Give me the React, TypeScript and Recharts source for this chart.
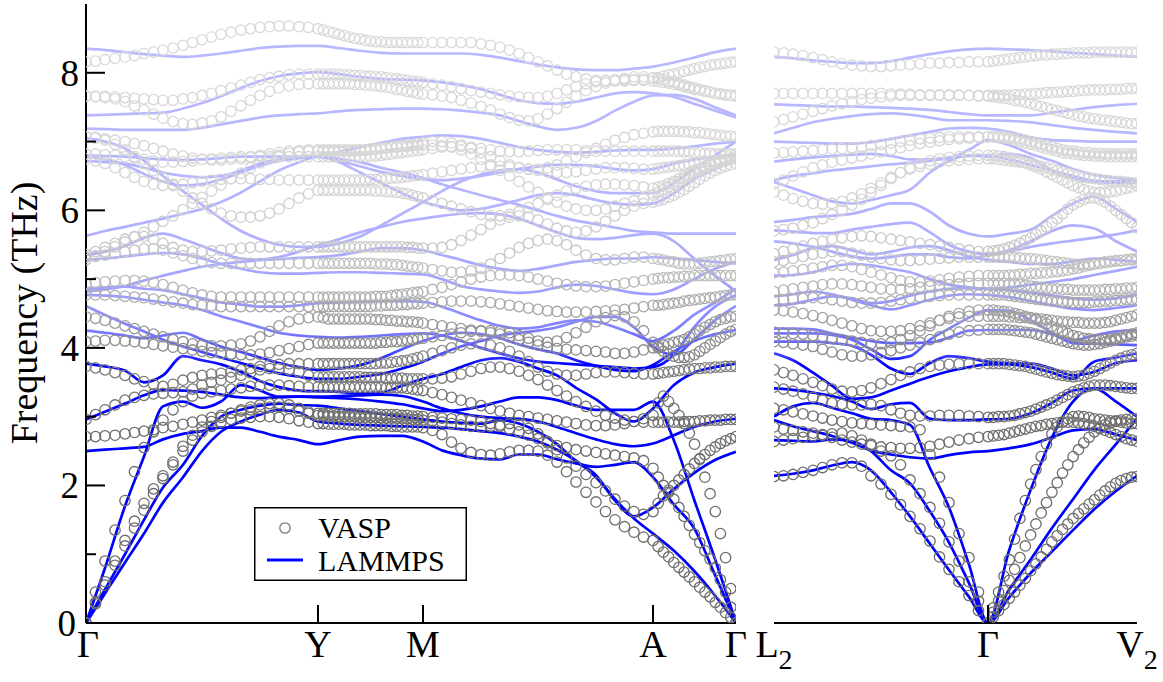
import React from 'react';
import { ComposedChart, Line, Scatter, XAxis, YAxis, Legend } from 'recharts';

const FONT = '"Liberation Serif", "Times New Roman", Times, serif';
const PLOT_TOP = 4;
const PLOT_BOTTOM = 623;

// ---------- k-path grids (path distance units) ----------
const kLmpLeft = [0,19,39,58,77,97,116,135,155,174,193,213,232,253,274,295,316,337,356,375,395,414,433,452,471,490,510,529,548,567,588,608,629,650];
const kVaspLeft = [
  0,9.5,19,29,39,48.5,58,67.5,77,87,97,106.5,116,125.5,135,145,155,164.5,174,183.5,193,203,213,222.5,232,
  237.25,242.5,247.75,253,258.25,263.5,268.75,274,279.25,284.5,289.75,295,300.25,305.5,310.75,316,321.25,326.5,331.75,337,
  346.5,356,365.5,375,385,395,404.5,414,423.5,433,442.5,452,461.5,471,480.5,490,500,510,519.5,529,538.5,548,557.5,567,
  572.2,577.4,582.6,587.8,592.9,598.1,603.3,608.5,613.7,618.9,624.1,629.3,634.4,639.6,644.8,650,
];
const kLmpRight = [0,19,39,58,78,97,117,136,156,175,195,214,235,257,278,299,320,342,363];
const kVaspRight = [
  0,9.5,19,29,39,48.5,58,68,78,87.5,97,107,117,126.5,136,146,156,165.5,175,185,195,204.5,214,
  219.3,224.6,230,235.3,240.6,245.9,251.3,256.6,261.9,267.2,272.5,277.9,283.2,288.5,293.8,299.1,304.5,309.8,315.1,320.4,325.8,331.1,336.4,341.7,347,352.4,357.7,363,
];

// ---------- tick labels ----------
const leftTickPos = [0, 232, 337, 567, 650];
const leftTickLabels = ['Γ', 'Y', 'M', 'A', 'Γ'];
const leftTickSub = ['', '', '', '', ''];
const rightTickPos = [0, 214, 363];
const rightTickMain = ['L', 'Γ', 'V'];
const rightTickSub = ['2', '', '2'];
const freqTicks = [0, 1, 2, 3, 4, 5, 6, 7, 8];
const freqTickLabels = ['0', '', '2', '', '4', '', '6', '', '8'];

// ---------- LAMMPS, left panel (Γ-Y-M-A-Γ) ----------
const lmpL01 = [0,0.43,0.88,1.30,1.75,2.12,2.50,2.78,2.93,3.03,3.10,3.06,2.93, 2.90,2.88,2.87,2.86,2.85, 2.84,2.82,2.79,2.76,2.71,2.64,2.52,2.36,2.12,1.80,1.52,1.30, 1.05,0.76,0.40,0];
const lmpL02 = [0,0.49,1.00,1.50,1.97,2.30,2.72,3.00,3.10,3.16,3.19,3.17,3.16, 3.12,3.08,3.04,3.00,2.96, 2.93,2.91,2.90,2.95,2.90,2.78,2.60,2.35,2.15,1.78,1.55,1.68, 1.95,2.18,2.37,2.49];
const lmpL03 = [2.50,2.52,2.54,2.56,2.67,2.75,2.79,2.84,2.84,2.78,2.71,2.66,2.60, 2.66,2.71,2.72,2.72,2.64, 2.51,2.44,2.39,2.38,2.45,2.45,2.38,2.32,2.27,2.30,2.34,2.12, 1.72,1.38,0.70,0];
const lmpL04 = [0,0.80,1.70,2.42,3.15,3.22,3.13,3.22,3.46,3.38,3.29,3.29,3.28, 3.27,3.25,3.22,3.18,3.12, 3.08,3.10,3.15,3.22,3.28,3.28,3.24,3.16,3.10,3.10,3.10,3.22, 2.65,1.80,0.93,0];
const lmpL05 = [2.96,3.07,3.19,3.31,3.39,3.38,3.36,3.32,3.28,3.27,3.28,3.29,3.29, 3.30,3.31,3.32,3.30,3.22, 3.12,3.05,3.00,2.98,2.97,2.93,2.85,2.76,2.67,2.60,2.57,2.61, 2.73,2.85,2.93,2.97];
const lmpL06 = [3.77,3.73,3.67,3.50,3.60,3.88,3.82,3.76,3.65,3.52,3.43,3.38,3.37, 3.36,3.34,3.35,3.45,3.55, 3.62,3.72,3.82,3.85,3.80,3.70,3.60,3.42,3.25,3.05,2.93,3.12, 3.46,3.64,3.72,3.77];
const lmpL07 = [4.25,4.22,4.18,4.14,4.18,4.22,4.12,4.02,3.94,3.86,3.78,3.72,3.68, 3.70,3.75,3.85,3.98,4.10, 4.18,4.22,4.20,4.14,4.05,3.98,3.92,3.82,3.74,3.68,3.66,3.75, 3.95,4.10,4.20,4.26];
const lmpL08 = [4.61,4.48,4.35,4.24,4.12,4.02,3.94,3.86,3.78,3.70,3.63,3.58,3.55, 3.55,3.58,3.62,3.70,3.80, 3.92,4.02,4.10,4.18,4.22,4.25,4.30,4.38,4.45,4.45,4.30,4.02, 3.90,4.12,4.40,4.61];
const lmpL09 = [4.77,4.76,4.74,4.70,4.66,4.62,4.55,4.46,4.38,4.30,4.22,4.18,4.16, 4.15,4.16,4.18,4.20,4.21, 4.18,4.10,4.00,3.92,3.85,3.80,3.78,3.76,3.74,3.72,3.70,3.72, 3.90,4.30,4.60,4.77];
const lmpL10 = [4.86,4.88,4.89,4.86,4.84,4.78,4.72,4.66,4.63,4.60,4.60,4.62,4.65, 4.66,4.67,4.68,4.68,4.67, 4.60,4.50,4.40,4.32,4.28,4.30,4.36,4.40,4.38,4.30,4.20,4.10, 4.25,4.48,4.66,4.86];
const lmpL11 = [4.82,4.85,4.90,4.98,5.05,5.12,5.18,5.22,5.25,5.28,5.32,5.40,5.49, 5.58,5.68,5.76,5.83,5.88, 5.92,5.95,5.96,5.94,5.88,5.78,5.68,5.60,5.58,5.60,5.64,5.66, 5.55,5.30,5.05,4.82];
const lmpL12 = [5.28,5.30,5.33,5.36,5.38,5.36,5.30,5.22,5.15,5.10,5.08,5.08,5.09, 5.10,5.10,5.09,5.08,5.07, 5.00,4.90,4.85,4.82,4.80,4.82,4.88,4.92,4.90,4.85,4.80,4.78, 4.85,5.00,5.15,5.25];
const lmpL13 = [5.35,5.40,5.48,5.60,5.66,5.58,5.48,5.38,5.30,5.28,5.29,5.31,5.32, 5.35,5.40,5.45,5.45,5.42, 5.35,5.28,5.20,5.15,5.12,5.15,5.20,5.25,5.28,5.30,5.30,5.32, 5.30,5.28,5.25,5.23];
const lmpL14 = [5.63,5.70,5.76,5.82,5.88,5.95,6.02,6.12,6.26,6.42,6.58,6.70,6.78, 6.75,6.70,6.62,6.55,6.47, 6.38,6.30,6.22,6.15,6.08,6.00,5.92,5.85,5.80,5.75,5.70,5.68, 5.66,5.66,5.66,5.66];
const lmpL15 = [7.05,7.00,6.90,6.72,6.50,6.28,6.08,5.88,5.70,5.58,5.50,5.47,5.47, 5.52,5.62,5.78,5.95,6.12, 6.28,6.42,6.52,6.58,6.60,6.55,6.45,6.35,6.28,6.25,6.25,6.25, 6.40,6.60,6.80,7.00];
const lmpL16 = [6.80,6.79,6.78,6.76,6.74,6.73,6.74,6.76,6.78,6.78,6.78,6.78,6.78, 6.85,6.92,6.98,7.04,7.07, 7.09,7.08,7.04,6.98,6.92,6.88,6.85,6.84,6.85,6.87,6.88,6.88, 6.90,6.93,6.97,7.00];
const lmpL17 = [6.78,6.74,6.66,6.53,6.42,6.36,6.38,6.45,6.55,6.65,6.72,6.76,6.78, 6.72,6.64,6.56,6.50,6.45, 6.44,6.46,6.50,6.55,6.60,6.64,6.66,6.66,6.64,6.60,6.58,6.60, 6.68,6.74,6.78,6.80];
const lmpL18 = [6.72,6.70,6.68,6.62,6.55,6.50,6.48,6.50,6.58,6.68,6.74,6.77,6.78, 6.70,6.55,6.40,6.25,6.12, 6.05,6.00,6.02,6.08,6.15,6.22,6.25,6.22,6.15,6.10,6.08,6.10, 6.25,6.45,6.60,6.72];
const lmpL19 = [7.19,7.18,7.17,7.17,7.17,7.17,7.20,7.25,7.30,7.35,7.38,7.40,7.41, 7.44,7.46,7.47,7.48,7.48, 7.47,7.45,7.42,7.38,7.30,7.22,7.17,7.20,7.30,7.45,7.58,7.67, 7.68,7.62,7.50,7.38];
const lmpL20 = [7.38,7.39,7.40,7.41,7.42,7.48,7.56,7.66,7.78,7.88,7.95,7.99,8.01, 7.98,7.94,7.91,7.90,7.89, 7.86,7.82,7.76,7.68,7.60,7.56,7.55,7.58,7.64,7.70,7.72,7.70, 7.65,7.55,7.45,7.35];
const lmpL21 = [8.35,8.33,8.30,8.27,8.25,8.23,8.25,8.28,8.32,8.36,8.38,8.39,8.39, 8.36,8.32,8.29,8.28,8.28, 8.28,8.28,8.26,8.22,8.17,8.12,8.08,8.05,8.04,8.04,8.06,8.09, 8.15,8.22,8.30,8.35];

// ---------- LAMMPS, right panel (L2-Γ-V2) ----------
const lmpR01 = [2.14,2.17,2.22,2.29,2.34,2.22,1.90,1.55,1.15,0.77,0.38,0, 0.37,0.73,1.04,1.35,1.65,1.92,2.14];
const lmpR02 = [2.66,2.65,2.64,2.67,2.64,2.50,2.22,2.03,1.62,1.17,0.58,0, 0.48,0.93,1.38,1.80,2.22,2.60,2.97];
const lmpR03 = [2.95,2.86,2.79,2.72,2.62,2.51,2.45,2.41,2.39,2.44,2.48,2.50, 2.54,2.60,2.70,2.80,2.82,2.74,2.66];
const lmpR04 = [3.00,3.15,3.20,3.13,3.05,2.97,2.95,2.88,2.25,1.68,0.85,0, 1.05,1.95,2.70,3.22,3.41,3.22,3.00];
const lmpR05 = [3.41,3.39,3.35,3.30,3.22,3.11,3.18,3.20,2.97,2.95,2.95,2.96, 2.97,3.05,3.20,3.38,3.41,3.41,3.41];
const lmpR06 = [3.92,3.82,3.64,3.45,3.26,3.28,3.38,3.48,3.58,3.66,3.72,3.76, 3.76,3.72,3.64,3.55,3.80,3.86,3.92];
const lmpR07 = [4.28,4.28,4.27,4.21,4.15,4.10,4.07,4.07,4.08,4.15,4.25,4.26, 4.26,4.26,4.20,4.11,4.18,4.24,4.26];
const lmpR08 = [4.21,4.21,4.21,4.19,4.12,3.98,3.84,3.88,4.12,4.28,4.44,4.55, 4.54,4.40,4.22,4.07,4.06,4.05,4.04];
const lmpR09 = [4.09,4.09,4.09,4.07,4.03,3.90,3.70,3.62,3.78,3.88,3.85,3.80, 3.78,3.77,3.70,3.60,3.65,3.78,3.82];
const lmpR10 = [4.75,4.78,4.82,4.78,4.70,4.62,4.56,4.62,4.70,4.76,4.78,4.77, 4.74,4.68,4.62,4.57,4.55,4.58,4.62];
const lmpR11 = [4.62,4.64,4.70,4.75,4.72,4.65,4.68,4.76,4.82,4.86,4.87,4.86, 4.84,4.80,4.76,4.72,4.70,4.72,4.78];
const lmpR12 = [5.05,5.06,5.10,5.18,5.22,5.20,5.15,5.10,5.00,4.92,4.88,4.86, 4.88,4.92,4.96,5.00,5.06,5.12,5.18];
const lmpR13 = [5.28,5.35,5.45,5.48,5.42,5.36,5.40,5.46,5.48,5.42,5.33,5.28, 5.25,5.22,5.22,5.26,5.30,5.28,5.25];
const lmpR14 = [5.55,5.52,5.47,5.40,5.33,5.30,5.32,5.36,5.36,5.32,5.30,5.35, 5.42,5.55,5.70,5.78,5.74,5.55,5.40];
const lmpR15 = [5.71,5.69,5.67,5.67,5.72,5.76,5.80,5.82,5.68,5.50,5.40,5.36, 5.40,5.47,5.52,5.56,5.60,5.65,5.71];
const lmpR16 = [5.83,5.86,5.90,5.92,5.95,6.02,6.10,6.10,5.98,5.78,5.66,5.62, 5.66,5.72,5.92,6.10,6.20,6.02,5.83];
const lmpR17 = [6.41,6.32,6.22,6.13,6.10,6.15,6.22,6.30,6.55,6.72,6.80,6.78, 6.82,6.76,6.58,6.47,6.41,6.40,6.40];
const lmpR18 = [6.44,6.50,6.54,6.58,6.61,6.64,6.67,6.69,6.72,6.76,6.79,6.80, 6.74,6.66,6.58,6.50,6.43,6.42,6.44];
const lmpR19 = [6.71,6.74,6.77,6.79,6.81,6.82,6.79,6.74,6.74,6.76,6.88,7.02, 6.95,6.82,6.72,6.60,6.52,6.47,6.44];
const lmpR20 = [7.00,6.99,6.98,6.97,6.97,6.99,7.04,7.09,7.14,7.19,7.20,7.19, 7.14,7.06,7.02,7.01,7.00,7.00,7.00];
const lmpR21 = [7.12,7.20,7.28,7.33,7.37,7.40,7.41,7.39,7.35,7.31,7.31,7.31, 7.30,7.28,7.24,7.20,7.17,7.14,7.12];
const lmpR22 = [7.54,7.53,7.52,7.51,7.51,7.50,7.49,7.48,7.46,7.43,7.40,7.38, 7.38,7.38,7.42,7.46,7.50,7.53,7.55];
const lmpR23 = [8.23,8.21,8.18,8.16,8.14,8.14,8.17,8.22,8.27,8.31,8.34,8.35, 8.34,8.33,8.31,8.29,8.27,8.25,8.23];

// ---------- VASP, left panel (Γ-Y 25 | Y-M 20 | M-A 24 | A-Γ 16) ----------
const vspL01 = [0,0.28,0.55,0.84,1.12,1.38,1.64,1.88,2.10,2.30,2.50,2.66,2.78,2.86,2.92,2.96,2.98,2.99,3.00,3.00,2.99,2.97,2.94,2.92,2.90,
  2.90,2.89,2.89,2.89,2.89,2.88,2.88,2.88,2.88,2.87,2.87,2.87,2.87,2.86,2.86,2.85,2.85,2.85,2.85,2.84,
  2.80,2.74,2.63,2.54,2.48,2.45,2.44,2.46,2.49,2.51,2.51,2.50,2.44,2.34,2.20,2.05,1.90,1.76,1.62,1.50,1.40,1.32,1.25,1.20,
  1.11,1.03,0.96,0.88,0.81,0.74,0.67,0.60,0.52,0.45,0.38,0.30,0.23,0.15,0.08,0];
const vspL02 = [0,0.30,0.60,0.90,1.20,1.48,1.74,1.95,2.14,2.34,2.57,2.73,2.85,2.93,2.99,3.05,3.10,3.14,3.17,3.19,3.19,3.17,3.12,3.07,3.02,
  3.02,3.01,3.01,3.00,3.00,3.00,3.00,2.99,2.99,2.99,2.99,2.98,2.98,2.98,2.98,2.97,2.97,2.96,2.96,2.95,
  2.94,2.92,2.90,2.88,2.86,2.85,2.86,2.88,2.90,2.88,2.83,2.75,2.64,2.52,2.40,2.28,2.16,2.04,1.92,1.80,1.70,1.62,1.58,1.62,
  1.74,1.85,1.93,2.00,2.08,2.16,2.24,2.32,2.39,2.45,2.51,2.56,2.61,2.65,2.68,2.71];
const vspL03 = [2.71,2.71,2.72,2.73,2.75,2.77,2.79,2.81,2.84,2.86,2.89,2.92,2.95,2.99,3.02,3.05,3.08,3.10,3.12,3.14,3.14,3.12,3.08,3.05,3.05,
  3.05,3.05,3.05,3.05,3.05,3.05,3.04,3.04,3.04,3.04,3.04,3.03,3.03,3.03,3.03,3.02,3.02,3.01,3.01,3.00,
  2.99,2.98,2.97,2.96,2.95,2.93,2.90,2.86,2.82,2.78,2.73,2.68,2.62,2.58,2.55,2.52,2.50,2.48,2.46,2.44,2.42,2.40,2.36,2.25,
  2.12,2.00,1.90,1.80,1.68,1.55,1.42,1.29,1.17,1.05,0.93,0.80,0.63,0.45,0.23,0];
const vspL04 = [0,0.45,0.90,1.35,1.78,2.20,2.55,2.78,2.95,3.10,3.22,3.30,3.34,3.36,3.38,3.40,3.42,3.44,3.45,3.46,3.46,3.45,3.44,3.43,3.43,
  3.43,3.43,3.43,3.43,3.43,3.43,3.43,3.43,3.43,3.43,3.43,3.43,3.42,3.42,3.42,3.42,3.41,3.40,3.39,3.38,
  3.35,3.32,3.28,3.24,3.20,3.16,3.12,3.08,3.05,3.02,3.00,2.98,2.96,2.94,2.92,2.90,2.88,2.87,2.87,2.88,2.90,2.93,2.97,3.02,
  3.20,3.30,3.22,3.12,3.02,2.90,2.76,2.60,2.38,2.12,1.88,1.62,1.30,0.95,0.50,0];
const vspL05 = [2.96,3.03,3.10,3.17,3.24,3.28,3.31,3.33,3.34,3.35,3.36,3.40,3.46,3.50,3.53,3.57,3.60,3.64,3.68,3.70,3.70,3.68,3.65,3.60,3.58,
  3.58,3.58,3.58,3.58,3.58,3.58,3.58,3.58,3.57,3.57,3.57,3.57,3.56,3.56,3.56,3.56,3.55,3.55,3.55,3.55,
  3.55,3.56,3.58,3.62,3.66,3.70,3.72,3.72,3.70,3.66,3.60,3.54,3.46,3.38,3.30,3.22,3.15,3.08,3.02,2.98,2.95,2.93,2.92,2.92,
  2.92,2.92,2.92,2.92,2.92,2.93,2.93,2.93,2.94,2.94,2.95,2.95,2.95,2.96,2.96,2.96];
const vspL06 = [3.73,3.71,3.68,3.64,3.60,3.55,3.51,3.47,3.44,3.47,3.53,3.57,3.60,3.62,3.63,3.65,3.68,3.70,3.73,3.75,3.76,3.77,3.77,3.77,3.77,
  3.77,3.77,3.77,3.77,3.77,3.77,3.77,3.77,3.77,3.77,3.77,3.78,3.78,3.79,3.80,3.81,3.82,3.84,3.86,3.88,
  3.92,3.96,4.00,4.04,4.06,4.06,4.04,4.00,3.95,3.88,3.80,3.72,3.66,3.62,3.60,3.60,3.62,3.64,3.65,3.65,3.64,3.63,3.62,3.62,
  3.63,3.64,3.65,3.66,3.67,3.68,3.69,3.70,3.70,3.71,3.71,3.72,3.72,3.73,3.73,3.73];
const vspL07 = [4.09,4.10,4.11,4.11,4.10,4.09,4.07,4.05,4.03,4.01,3.99,3.97,3.95,3.93,3.92,3.91,3.90,3.90,3.91,3.93,3.96,3.99,4.02,4.05,4.07,
  4.07,4.07,4.07,4.07,4.07,4.07,4.07,4.07,4.07,4.07,4.07,4.08,4.08,4.09,4.09,4.10,4.11,4.12,4.13,4.14,
  4.16,4.18,4.20,4.22,4.24,4.25,4.25,4.24,4.22,4.18,4.14,4.10,4.08,4.10,4.15,4.22,4.30,4.38,4.44,4.47,4.45,4.38,4.25,4.08,
  4.00,3.95,3.91,3.88,3.86,3.86,3.87,3.90,3.95,4.00,4.05,4.10,4.15,4.20,4.24,4.27];
const vspL08 = [4.45,4.43,4.40,4.36,4.32,4.28,4.24,4.20,4.16,4.12,4.09,4.06,4.04,4.03,4.03,4.04,4.06,4.10,4.16,4.24,4.32,4.38,4.42,4.44,4.45,
  4.44,4.42,4.42,4.42,4.42,4.42,4.42,4.42,4.42,4.42,4.41,4.41,4.40,4.40,4.39,4.39,4.38,4.38,4.37,4.36,
  4.34,4.32,4.30,4.28,4.26,4.24,4.22,4.20,4.16,4.12,4.08,4.04,4.01,3.99,3.98,3.97,3.96,3.95,3.94,3.92,3.92,3.94,3.97,4.00,
  4.02,4.04,4.06,4.08,4.10,4.12,4.16,4.20,4.25,4.30,4.34,4.38,4.41,4.43,4.45,4.46];
const vspL09 = [4.77,4.77,4.77,4.76,4.75,4.74,4.73,4.71,4.69,4.67,4.65,4.63,4.62,4.61,4.60,4.60,4.60,4.60,4.60,4.60,4.60,4.60,4.60,4.60,4.60,
  4.60,4.60,4.60,4.60,4.60,4.60,4.60,4.60,4.60,4.60,4.61,4.61,4.62,4.62,4.62,4.63,4.63,4.64,4.64,4.65,
  4.66,4.67,4.68,4.68,4.68,4.67,4.66,4.64,4.62,4.60,4.58,4.56,4.54,4.53,4.52,4.52,4.52,4.53,4.54,4.55,4.56,4.58,4.60,4.62,
  4.62,4.63,4.64,4.65,4.66,4.68,4.69,4.70,4.71,4.72,4.73,4.74,4.75,4.76,4.77,4.77];
const vspL10 = [4.94,4.95,4.96,4.97,4.98,4.98,4.97,4.95,4.92,4.88,4.84,4.80,4.77,4.75,4.74,4.74,4.74,4.74,4.74,4.74,4.74,4.74,4.74,4.74,4.74,
  4.74,4.74,4.74,4.74,4.74,4.74,4.74,4.74,4.74,4.74,4.75,4.75,4.75,4.76,4.77,4.78,4.79,4.80,4.81,4.82,
  4.85,4.88,4.92,4.96,5.00,5.03,5.05,5.06,5.06,5.05,5.03,5.00,4.97,4.94,4.92,4.90,4.89,4.89,4.90,4.92,4.94,4.96,4.98,5.00,
  5.01,5.02,5.02,5.03,5.03,5.04,5.04,5.05,5.05,5.05,5.05,5.05,5.05,5.05,5.05,5.05];
const vspL11 = [5.32,5.33,5.35,5.37,5.40,5.42,5.44,5.44,5.42,5.38,5.34,5.30,5.26,5.24,5.23,5.23,5.23,5.23,5.23,5.23,5.23,5.23,5.23,5.23,5.23,
  5.23,5.23,5.23,5.23,5.23,5.23,5.23,5.23,5.23,5.23,5.22,5.22,5.22,5.21,5.21,5.20,5.19,5.18,5.17,5.16,
  5.14,5.12,5.10,5.10,5.12,5.16,5.22,5.30,5.38,5.46,5.52,5.56,5.58,5.56,5.50,5.42,5.35,5.30,5.28,5.28,5.30,5.32,5.32,5.30,
  5.29,5.28,5.26,5.25,5.23,5.22,5.22,5.22,5.23,5.24,5.25,5.26,5.27,5.28,5.29,5.30];
const vspL12 = [5.36,5.40,5.46,5.52,5.58,5.62,5.62,5.58,5.52,5.46,5.42,5.40,5.40,5.41,5.42,5.44,5.45,5.46,5.47,5.47,5.47,5.47,5.47,5.47,5.47,
  5.47,5.47,5.47,5.47,5.47,5.47,5.47,5.47,5.47,5.47,5.47,5.47,5.47,5.47,5.47,5.47,5.46,5.46,5.45,5.45,
  5.45,5.46,5.50,5.56,5.64,5.72,5.80,5.86,5.90,5.92,5.90,5.86,5.80,5.74,5.70,5.68,5.70,5.76,5.84,5.92,6.00,6.06,6.10,6.12,
  6.14,6.16,6.19,6.22,6.26,6.30,6.35,6.40,6.45,6.50,6.54,6.58,6.61,6.64,6.66,6.68];
const vspL13 = [5.28,5.34,5.40,5.47,5.54,5.61,5.68,5.76,5.84,5.92,6.01,6.10,6.19,6.28,6.37,6.46,6.54,6.62,6.69,6.75,6.80,6.83,6.85,6.86,6.86,
  6.86,6.86,6.86,6.86,6.86,6.86,6.86,6.87,6.87,6.88,6.89,6.90,6.91,6.92,6.92,6.93,6.93,6.94,6.94,6.95,
  6.95,6.94,6.92,6.88,6.82,6.74,6.66,6.58,6.50,6.42,6.34,6.26,6.18,6.12,6.06,6.02,6.00,6.00,6.02,6.06,6.10,6.14,6.18,6.22,
  6.26,6.30,6.34,6.38,6.42,6.46,6.50,6.54,6.58,6.62,6.65,6.68,6.70,6.72,6.74,6.75];
const vspL14 = [7.07,7.05,7.02,6.96,6.88,6.78,6.68,6.58,6.48,6.38,6.28,6.18,6.10,6.02,5.96,5.92,5.90,5.90,5.92,5.96,6.02,6.10,6.18,6.24,6.29,
  6.29,6.29,6.29,6.29,6.29,6.29,6.29,6.29,6.29,6.29,6.28,6.28,6.27,6.27,6.26,6.25,6.24,6.22,6.20,6.18,
  6.14,6.10,6.06,6.02,5.98,5.94,5.92,5.92,5.94,5.98,6.04,6.10,6.16,6.22,6.28,6.32,6.35,6.37,6.38,6.38,6.37,6.36,6.34,6.32,
  6.34,6.36,6.39,6.42,6.46,6.50,6.54,6.58,6.61,6.64,6.67,6.70,6.72,6.74,6.76,6.78];
const vspL15 = [6.75,6.72,6.68,6.62,6.55,6.48,6.42,6.38,6.36,6.36,6.38,6.40,6.42,6.44,6.45,6.46,6.46,6.46,6.45,6.45,6.44,6.44,6.44,6.44,6.44,
  6.44,6.44,6.44,6.44,6.44,6.44,6.44,6.44,6.44,6.45,6.45,6.46,6.46,6.47,6.47,6.48,6.49,6.50,6.51,6.52,
  6.54,6.56,6.58,6.60,6.62,6.63,6.64,6.64,6.63,6.62,6.60,6.58,6.56,6.55,6.55,6.56,6.58,6.60,6.62,6.62,6.62,6.61,6.60,6.60,
  6.61,6.62,6.63,6.64,6.65,6.66,6.67,6.68,6.69,6.70,6.71,6.72,6.73,6.74,6.75,6.76];
const vspL16 = [6.82,6.82,6.81,6.80,6.78,6.76,6.74,6.72,6.70,6.70,6.71,6.72,6.74,6.75,6.76,6.77,6.78,6.78,6.78,6.78,6.78,6.78,6.78,6.78,6.78,
  6.78,6.78,6.78,6.78,6.78,6.78,6.78,6.78,6.78,6.79,6.79,6.80,6.81,6.82,6.83,6.84,6.85,6.86,6.87,6.88,
  6.90,6.92,6.93,6.93,6.92,6.90,6.88,6.86,6.85,6.85,6.86,6.87,6.88,6.88,6.88,6.88,6.87,6.86,6.86,6.86,6.86,6.86,6.86,6.86,
  6.86,6.86,6.86,6.86,6.86,6.85,6.85,6.84,6.84,6.83,6.83,6.82,6.82,6.82,6.82,6.82];
const vspL17 = [7.66,7.65,7.64,7.62,7.58,7.52,7.46,7.40,7.34,7.29,7.26,7.25,7.27,7.30,7.36,7.44,7.52,7.60,7.67,7.73,7.78,7.81,7.83,7.84,7.84,
  7.84,7.84,7.84,7.84,7.84,7.84,7.83,7.83,7.82,7.82,7.81,7.80,7.79,7.78,7.76,7.75,7.73,7.72,7.70,7.69,
  7.68,7.66,7.64,7.60,7.56,7.51,7.46,7.40,7.35,7.31,7.30,7.33,7.40,7.48,7.57,7.66,7.74,7.80,7.85,7.89,7.92,7.94,7.94,7.93,
  7.92,7.90,7.88,7.86,7.84,7.82,7.80,7.78,7.76,7.74,7.72,7.70,7.69,7.68,7.67,7.67];
const vspL18 = [7.66,7.66,7.66,7.65,7.64,7.63,7.62,7.61,7.60,7.60,7.62,7.64,7.67,7.70,7.74,7.78,7.82,7.86,7.90,7.93,7.95,7.97,7.98,7.98,7.98,
  7.98,7.98,7.98,7.98,7.97,7.97,7.96,7.96,7.95,7.95,7.94,7.94,7.93,7.92,7.91,7.90,7.89,7.88,7.87,7.86,
  7.84,7.82,7.80,7.77,7.74,7.72,7.70,7.68,7.66,7.65,7.64,7.64,7.66,7.70,7.75,7.80,7.84,7.87,7.89,7.90,7.90,7.90,7.89,7.88,
  7.87,7.86,7.85,7.83,7.82,7.80,7.78,7.76,7.75,7.73,7.72,7.70,7.69,7.68,7.67,7.66];
const vspL19 = [8.16,8.17,8.19,8.21,8.23,8.25,8.28,8.30,8.33,8.36,8.40,8.44,8.48,8.52,8.56,8.59,8.62,8.64,8.66,8.67,8.68,8.68,8.67,8.66,8.64,
  8.62,8.60,8.58,8.56,8.54,8.52,8.50,8.49,8.47,8.46,8.45,8.45,8.44,8.44,8.44,8.44,8.44,8.44,8.44,8.44,
  8.44,8.44,8.44,8.44,8.44,8.42,8.40,8.37,8.33,8.28,8.22,8.16,8.10,8.04,7.98,7.94,7.91,7.89,7.88,7.88,7.88,7.89,7.90,7.92,
  7.93,7.95,7.97,7.98,8.00,8.02,8.04,8.06,8.08,8.09,8.11,8.12,8.13,8.14,8.15,8.16];
const vspL20 = [7.07,7.06,7.04,7.02,7.00,6.97,6.94,6.90,6.86,6.82,6.79,6.76,6.74,6.73,6.73,6.74,6.75,6.77,6.80,6.82,6.84,6.86,6.87,6.88,6.88,
  6.88,6.88,6.88,6.88,6.88,6.88,6.88,6.88,6.88,6.89,6.89,6.90,6.91,6.92,6.93,6.94,6.95,6.96,6.97,6.98,
  7.00,7.00,6.98,6.95,6.90,6.84,6.78,6.72,6.66,6.62,6.60,6.60,6.62,6.66,6.72,6.78,6.84,6.90,6.96,7.02,7.06,7.10,7.12,7.14,
  7.15,7.15,7.15,7.15,7.15,7.14,7.14,7.13,7.13,7.12,7.11,7.10,7.09,7.08,7.08,7.07];

// ---------- VASP, right panel (L2-Γ 23 | Γ-V2 28) ----------
const vspR01 = [2.13,2.14,2.16,2.19,2.22,2.26,2.30,2.33,2.33,2.28,2.14,2.02,1.87,1.72,1.55,1.37,1.19,0.96,0.78,0.60,0.40,0.18,0,
  0.09,0.18,0.27,0.36,0.45,0.55,0.65,0.76,0.86,0.96,1.07,1.18,1.27,1.36,1.44,1.52,1.59,1.66,1.73,1.79,1.86,1.92,1.98,2.03,2.07,2.10,2.12,2.13];
const vspR02 = [2.64,2.66,2.68,2.70,2.72,2.74,2.75,2.76,2.72,2.66,2.60,2.50,2.43,2.30,2.08,1.88,1.68,1.45,1.18,0.90,0.60,0.32,0,
  0.16,0.32,0.47,0.62,0.78,0.95,1.12,1.28,1.44,1.60,1.75,1.90,2.04,2.18,2.30,2.42,2.52,2.62,2.70,2.78,2.83,2.88,2.91,2.94,2.95,2.96,2.97,2.97];
const vspR03 = [2.85,2.82,2.80,2.78,2.76,2.73,2.70,2.66,2.63,2.60,2.58,2.56,2.55,2.54,2.54,2.55,2.57,2.60,2.63,2.66,2.68,2.70,2.71,
  2.72,2.73,2.74,2.76,2.78,2.80,2.82,2.84,2.86,2.87,2.89,2.90,2.91,2.92,2.92,2.92,2.91,2.90,2.88,2.86,2.83,2.80,2.77,2.74,2.71,2.68,2.66,2.64];
const vspR04 = [3.12,3.10,3.07,3.04,3.01,2.98,2.95,2.93,2.91,2.90,2.89,2.88,2.87,2.86,2.85,2.81,2.45,2.12,1.75,1.30,0.95,0.45,0,
  0.22,0.45,0.68,0.92,1.22,1.52,1.78,2.02,2.23,2.42,2.60,2.75,2.85,2.92,2.97,3.00,3.01,3.00,2.99,2.97,2.96,2.95,2.94,2.93,2.92,2.91,2.90,2.90];
const vspR05 = [3.43,3.40,3.37,3.33,3.28,3.24,3.20,3.18,3.17,3.17,3.18,3.16,3.10,3.05,3.02,3.01,3.01,3.02,3.02,3.02,3.01,3.00,2.99,
  2.99,3.00,3.00,3.01,3.02,3.04,3.06,3.08,3.11,3.14,3.17,3.20,3.24,3.28,3.32,3.36,3.39,3.42,3.44,3.46,3.46,3.46,3.45,3.44,3.43,3.42,3.41,3.41];
const vspR06 = [3.68,3.64,3.60,3.55,3.50,3.45,3.40,3.37,3.36,3.38,3.42,3.48,3.54,3.60,3.65,3.70,3.73,3.75,3.76,3.77,3.77,3.77,3.77,
  3.77,3.77,3.77,3.76,3.75,3.74,3.73,3.71,3.69,3.67,3.65,3.63,3.61,3.60,3.59,3.58,3.59,3.60,3.63,3.66,3.70,3.74,3.78,3.82,3.85,3.88,3.90,3.92];
const vspR07 = [4.09,4.08,4.06,4.04,4.02,3.98,3.94,3.90,3.88,3.88,3.90,3.93,3.96,4.00,4.04,4.08,4.12,4.16,4.20,4.23,4.25,4.26,4.27,
  4.27,4.27,4.27,4.26,4.25,4.24,4.23,4.22,4.20,4.18,4.16,4.14,4.12,4.10,4.08,4.06,4.05,4.04,4.04,4.05,4.06,4.08,4.10,4.12,4.14,4.16,4.17,4.18];
const vspR08 = [4.23,4.22,4.21,4.20,4.18,4.16,4.14,4.12,4.10,4.08,4.06,4.06,4.08,4.12,4.18,4.25,4.32,4.40,4.46,4.50,4.53,4.55,4.55,
  4.55,4.54,4.53,4.52,4.50,4.48,4.46,4.44,4.41,4.38,4.35,4.31,4.28,4.24,4.21,4.18,4.16,4.14,4.13,4.12,4.12,4.12,4.13,4.14,4.16,4.18,4.20,4.22];
const vspR09 = [4.55,4.54,4.52,4.50,4.47,4.44,4.40,4.36,4.32,4.28,4.25,4.24,4.24,4.25,4.28,4.32,4.36,4.40,4.43,4.45,4.46,4.46,4.46,
  4.46,4.46,4.46,4.45,4.45,4.44,4.44,4.43,4.43,4.42,4.41,4.40,4.39,4.38,4.38,4.37,4.37,4.36,4.36,4.36,4.36,4.37,4.38,4.40,4.42,4.44,4.46,4.48];
const vspR10 = [4.69,4.70,4.71,4.72,4.73,4.72,4.70,4.68,4.66,4.65,4.65,4.66,4.68,4.70,4.72,4.74,4.75,4.76,4.77,4.77,4.77,4.77,4.77,
  4.77,4.77,4.77,4.76,4.75,4.74,4.73,4.72,4.71,4.70,4.69,4.68,4.68,4.67,4.67,4.66,4.66,4.66,4.66,4.67,4.67,4.68,4.68,4.69,4.69,4.70,4.70,4.70];
const vspR11 = [4.82,4.84,4.86,4.88,4.90,4.92,4.93,4.93,4.92,4.90,4.88,4.86,4.85,4.85,4.86,4.88,4.90,4.91,4.92,4.93,4.94,4.94,4.94,
  4.94,4.94,4.94,4.93,4.93,4.92,4.91,4.90,4.89,4.88,4.87,4.86,4.86,4.85,4.85,4.84,4.84,4.84,4.84,4.84,4.84,4.85,4.85,4.86,4.86,4.87,4.87,4.88];
const vspR12 = [5.09,5.10,5.12,5.14,5.16,5.18,5.20,5.20,5.18,5.14,5.10,5.06,5.02,4.98,4.96,4.96,4.97,4.99,5.01,5.03,5.04,5.05,5.05,
  5.05,5.05,5.05,5.06,5.06,5.07,5.07,5.08,5.08,5.09,5.09,5.10,5.11,5.12,5.13,5.15,5.16,5.18,5.20,5.22,5.23,5.25,5.26,5.27,5.27,5.28,5.28,5.28];
const vspR13 = [5.25,5.27,5.30,5.33,5.36,5.38,5.40,5.40,5.38,5.35,5.32,5.30,5.28,5.27,5.27,5.28,5.29,5.30,5.31,5.32,5.32,5.32,5.32,
  5.32,5.32,5.32,5.32,5.31,5.31,5.30,5.30,5.29,5.28,5.27,5.26,5.25,5.24,5.23,5.22,5.21,5.21,5.21,5.22,5.23,5.24,5.25,5.26,5.27,5.28,5.29,5.30];
const vspR14 = [5.37,5.40,5.44,5.48,5.52,5.55,5.58,5.60,5.62,5.63,5.62,5.60,5.58,5.56,5.54,5.52,5.50,5.48,5.46,5.44,5.42,5.40,5.40,
  5.41,5.42,5.44,5.46,5.49,5.52,5.56,5.60,5.65,5.70,5.76,5.82,5.88,5.95,6.02,6.08,6.12,6.16,6.18,6.18,6.16,6.12,6.06,6.00,5.94,5.88,5.82,5.75];
const vspR15 = [5.70,5.72,5.74,5.78,5.82,5.88,5.94,6.00,6.08,6.16,6.26,6.36,6.46,6.55,6.62,6.68,6.72,6.75,6.77,6.78,6.79,6.80,6.80,
  6.80,6.79,6.78,6.76,6.74,6.72,6.69,6.66,6.63,6.60,6.56,6.52,6.48,6.44,6.40,6.36,6.33,6.30,6.28,6.26,6.26,6.26,6.27,6.28,6.30,6.32,6.34,6.36];
const vspR16 = [6.27,6.22,6.17,6.13,6.10,6.09,6.10,6.13,6.18,6.24,6.32,6.40,6.48,6.55,6.60,6.64,6.67,6.70,6.72,6.73,6.74,6.75,6.75,
  6.75,6.74,6.73,6.72,6.71,6.70,6.69,6.68,6.66,6.64,6.62,6.60,6.58,6.56,6.54,6.52,6.50,6.48,6.47,6.46,6.45,6.44,6.43,6.42,6.42,6.41,6.40,6.40];
const vspR17 = [6.39,6.44,6.50,6.56,6.62,6.66,6.70,6.73,6.76,6.79,6.82,6.85,6.88,6.91,6.94,6.97,6.99,7.01,7.03,7.04,7.05,7.06,7.07,
  7.07,7.06,7.05,7.04,7.02,7.00,6.98,6.96,6.94,6.92,6.90,6.88,6.86,6.84,6.83,6.82,6.81,6.80,6.80,6.79,6.79,6.78,6.78,6.78,6.78,6.78,6.78,6.78];
const vspR18 = [6.83,6.84,6.85,6.86,6.87,6.88,6.89,6.90,6.91,6.92,6.94,6.96,6.98,7.00,7.02,7.04,7.05,7.06,7.07,7.07,7.07,7.07,7.07,
  7.07,7.07,7.07,7.06,7.05,7.04,7.02,7.00,6.98,6.96,6.94,6.92,6.90,6.88,6.87,6.86,6.85,6.84,6.84,6.83,6.83,6.82,6.82,6.82,6.82,6.82,6.82,6.82];
const vspR19 = [7.29,7.32,7.36,7.40,7.44,7.48,7.52,7.55,7.58,7.61,7.63,7.65,7.66,7.67,7.67,7.67,7.67,7.67,7.67,7.67,7.67,7.66,7.66,
  7.65,7.64,7.63,7.62,7.60,7.59,7.57,7.55,7.53,7.51,7.49,7.47,7.45,7.43,7.41,7.39,7.37,7.36,7.34,7.33,7.32,7.31,7.30,7.29,7.28,7.27,7.26,7.26];
const vspR20 = [7.70,7.70,7.70,7.70,7.70,7.70,7.70,7.70,7.70,7.70,7.70,7.70,7.69,7.69,7.69,7.68,7.68,7.68,7.68,7.68,7.67,7.67,7.67,
  7.67,7.67,7.67,7.67,7.68,7.68,7.69,7.69,7.70,7.70,7.71,7.71,7.72,7.72,7.73,7.73,7.74,7.74,7.75,7.75,7.75,7.75,7.76,7.76,7.76,7.77,7.77,7.77];
const vspR21 = [8.30,8.29,8.27,8.25,8.22,8.19,8.16,8.13,8.11,8.10,8.09,8.09,8.10,8.11,8.12,8.13,8.14,8.14,8.15,8.15,8.16,8.16,8.16,
  8.17,8.18,8.19,8.20,8.21,8.22,8.23,8.24,8.25,8.26,8.26,8.27,8.27,8.28,8.28,8.29,8.29,8.29,8.29,8.30,8.30,8.30,8.30,8.30,8.30,8.30,8.30,8.30];

const lammpsLeft = [lmpL01,lmpL02,lmpL03,lmpL04,lmpL05,lmpL06,lmpL07,lmpL08,lmpL09,lmpL10,lmpL11,lmpL12,lmpL13,lmpL14,lmpL15,lmpL16,lmpL17,lmpL18,lmpL19,lmpL20,lmpL21];
const lammpsRight = [lmpR01,lmpR02,lmpR03,lmpR04,lmpR05,lmpR06,lmpR07,lmpR08,lmpR09,lmpR10,lmpR11,lmpR12,lmpR13,lmpR14,lmpR15,lmpR16,lmpR17,lmpR18,lmpR19,lmpR20,lmpR21,lmpR22,lmpR23];
const vaspLeft = [vspL01,vspL02,vspL03,vspL04,vspL05,vspL06,vspL07,vspL08,vspL09,vspL10,vspL11,vspL12,vspL13,vspL14,vspL15,vspL16,vspL17,vspL18,vspL19,vspL20];
const vaspRight = [vspR01,vspR02,vspR03,vspR04,vspR05,vspR06,vspR07,vspR08,vspR09,vspR10,vspR11,vspR12,vspR13,vspR14,vspR15,vspR16,vspR17,vspR18,vspR19,vspR20,vspR21];

// ---------- styling ----------
const lineStops = [
  { v: 0, c: '#0000ff' }, { v: 3.75, c: '#0000ff' }, { v: 3.95, c: '#5252ff' },
  { v: 4.3, c: '#8282ff' }, { v: 4.8, c: '#9e9eff' }, { v: 5.4, c: '#aeaeff' },
  { v: 6.5, c: '#b6b6ff' }, { v: 9, c: '#b9b9ff' },
];
const grayStops: [number, number][] = [
  [0, 108], [3.0, 110], [3.6, 122], [4.1, 142], [4.6, 168], [5.1, 190], [5.6, 203], [6.3, 213], [9, 218],
];
function grayAt(v: number): string {
  let g = grayStops[grayStops.length - 1][1];
  for (let i = 0; i < grayStops.length - 1; i++) {
    const [v0, g0] = grayStops[i];
    const [v1, g1] = grayStops[i + 1];
    if (v >= v0 && v <= v1) { g = g0 + (g1 - g0) * (v - v0) / (v1 - v0); break; }
  }
  const h = Math.round(g).toString(16).padStart(2, '0');
  return `#${h}${h}${h}`;
}

const toPoints = (ks: number[], vs: number[]) =>
  ks.map((k, i) => ({ k, v: vs[i] })).filter((p) => p.v !== undefined && p.v !== null);

const Ring = (props: any) => {
  const { cx, cy, payload } = props;
  if (cx == null || cy == null || !payload) return <g />;
  return <circle cx={cx} cy={cy} r={5.2} fill="none" stroke={grayAt(payload.v)} strokeWidth={1.3} />;
};

const freqTickLeft = (p: any) => {
  const { x, y, payload } = p;
  const idx = freqTicks.indexOf(payload.value);
  const major = payload.value % 2 === 0;
  const dx = payload.value === 0 ? -10 : -7;
  return (
    <g>
      <line x1={x} x2={x + (major ? 19 : 10)} y1={y} y2={y} stroke="#000" strokeWidth={2} />
      {major && (
        <text x={x + dx} y={y + 13} textAnchor="end" fontFamily={FONT} fontSize={37} fill="#000">
          {freqTickLabels[idx]}
        </text>
      )}
    </g>
  );
};
const freqTickRight = (p: any) => {
  const { x, y, payload } = p;
  const major = payload.value % 2 === 0;
  return <line x1={x - (major ? 19 : 10)} x2={x} y1={y} y2={y} stroke="#000" strokeWidth={2} />;
};

const makeBottomTick = (pos: number[], main: string[], sub: string[], firstDx: number) => (p: any) => {
  const { x, y, payload } = p;
  const i = pos.indexOf(payload.value);
  const interior = i > 0 && i < pos.length - 1;
  const dx = i === 0 ? firstDx : 0;
  return (
    <g>
      {interior && <line x1={x} x2={x} y1={y} y2={y - 18} stroke="#000" strokeWidth={2} />}
      <text x={x + dx} y={y + 34} textAnchor="middle" fontFamily={FONT} fontSize={38} fill="#000">
        {main[i]}
        {sub[i] ? <tspan fontSize={28} dy={12}>{sub[i]}</tspan> : null}
      </text>
    </g>
  );
};
const makeTopTick = (pos: number[]) => (p: any) => {
  const { x, y, payload } = p;
  const i = pos.indexOf(payload.value);
  const interior = i > 0 && i < pos.length - 1;
  return interior ? <line x1={x} x2={x} y1={y} y2={y + 18} stroke="#000" strokeWidth={2} /> : <g />;
};

const FreqTitle = () => (
  <text x={37} y={313} transform="rotate(-90 37 313)" textAnchor="middle" fontFamily={FONT} fontSize={38} fill="#000">
    Frequency (THz)
  </text>
);

const LegendBox = () => (
  <svg width={213} height={74} style={{ display: 'block' }}>
    <rect x={0.75} y={0.75} width={211.5} height={72.5} fill="#fff" stroke="#000" strokeWidth={1.5} />
    <circle cx={31} cy={21} r={5.2} fill="none" stroke="#777" strokeWidth={1.3} />
    <text x={64} y={31} fontFamily={FONT} fontSize={30} fill="#000">VASP</text>
    <line x1={13} x2={49} y1={53} y2={53} stroke="#0000ff" strokeWidth={3} />
    <text x={64} y={64} fontFamily={FONT} fontSize={30} fill="#000">LAMMPS</text>
  </svg>
);

const Gradient = ({ id }: { id: string }) => (
  <defs>
    <linearGradient id={id} gradientUnits="userSpaceOnUse" x1={0} y1={PLOT_BOTTOM} x2={0} y2={PLOT_TOP}>
      {lineStops.map((s, i) => (
        <stop key={i} offset={s.v / 9} stopColor={s.c} />
      ))}
    </linearGradient>
  </defs>
);

const axisLine = { stroke: '#000', strokeWidth: 2 };

function Panel(props: {
  width: number; marginLeft: number; marginRight: number; yWidth: number; xMax: number;
  tickPos: number[]; main: string[]; sub: string[]; firstDx: number; lmpK: number[]; lmp: number[][];
  vspK: number[]; vsp: number[][]; gradId: string; leftTicks: boolean; legend: boolean;
}) {
  const { width, marginLeft, marginRight, yWidth, xMax, tickPos, main, sub, firstDx, lmpK, lmp, vspK, vsp, gradId, leftTicks, legend } = props;
  return (
    <ComposedChart width={width} height={682} margin={{ top: PLOT_TOP, right: marginRight, bottom: 9, left: marginLeft }}>
      <Gradient id={gradId} />
      <XAxis xAxisId="b" type="number" dataKey="k" domain={[0, xMax]} ticks={tickPos} interval={0}
        height={50} tickSize={0} tickMargin={0} tickLine={false} axisLine={axisLine}
        tick={makeBottomTick(tickPos, main, sub, firstDx)} allowDataOverflow />
      <XAxis xAxisId="t" orientation="top" type="number" domain={[0, xMax]} ticks={tickPos} interval={0}
        height={0} tickSize={0} tickMargin={0} tickLine={false} axisLine={axisLine}
        tick={makeTopTick(tickPos)} allowDataOverflow />
      <YAxis yAxisId="l" type="number" domain={[0, 9]} ticks={freqTicks} interval={0} width={yWidth}
        tickSize={0} tickMargin={0} tickLine={false} axisLine={axisLine}
        tick={leftTicks ? freqTickLeft : false} label={leftTicks ? <FreqTitle /> : undefined} allowDataOverflow />
      <YAxis yAxisId="r" orientation="right" type="number" domain={[0, 9]} ticks={freqTicks} interval={0} width={0}
        tickSize={0} tickMargin={0} tickLine={false} axisLine={axisLine}
        tick={leftTicks ? freqTickRight : false} allowDataOverflow />
      {vsp.map((band, i) => (
        <Scatter key={`v${i}`} xAxisId="b" yAxisId="l" data={toPoints(vspK, band)} dataKey="v"
          shape={Ring} isAnimationActive={false} legendType="none" />
      ))}
      {lmp.map((band, i) => (
        <Line key={`l${i}`} xAxisId="b" yAxisId="l" data={toPoints(lmpK, band)} dataKey="v" type="monotone"
          stroke={`url(#${gradId})`} strokeWidth={2.7} dot={false} activeDot={false}
          isAnimationActive={false} legendType="none" />
      ))}
      {legend && (
        <Legend layout="horizontal" verticalAlign="middle" align="center" content={() => <LegendBox />}
          wrapperStyle={{ position: 'absolute', left: 254, top: 507, width: 213, height: 74 }} />
      )}
    </ComposedChart>
  );
}

export default function App() {
  return (
    <div style={{ position: 'absolute', left: 0, top: 0, width: 1163, height: 682, background: '#fff', overflow: 'hidden' }}>
      <div style={{ position: 'absolute', left: 0, top: 0 }}>
        <Panel width={760} marginLeft={26} marginRight={24} yWidth={60} xMax={650}
          tickPos={leftTickPos} main={leftTickLabels} sub={leftTickSub} firstDx={2}
          lmpK={kLmpLeft} lmp={lammpsLeft} vspK={kVaspLeft} vsp={vaspLeft} gradId="gradLeft"
          leftTicks={true} legend={true} />
      </div>
      <div style={{ position: 'absolute', left: 740, top: 0 }}>
        <Panel width={423} marginLeft={34} marginRight={26} yWidth={0} xMax={363}
          tickPos={rightTickPos} main={rightTickMain} sub={rightTickSub} firstDx={0}
          lmpK={kLmpRight} lmp={lammpsRight} vspK={kVaspRight} vsp={vaspRight} gradId="gradRight"
          leftTicks={false} legend={false} />
      </div>
    </div>
  );
}
